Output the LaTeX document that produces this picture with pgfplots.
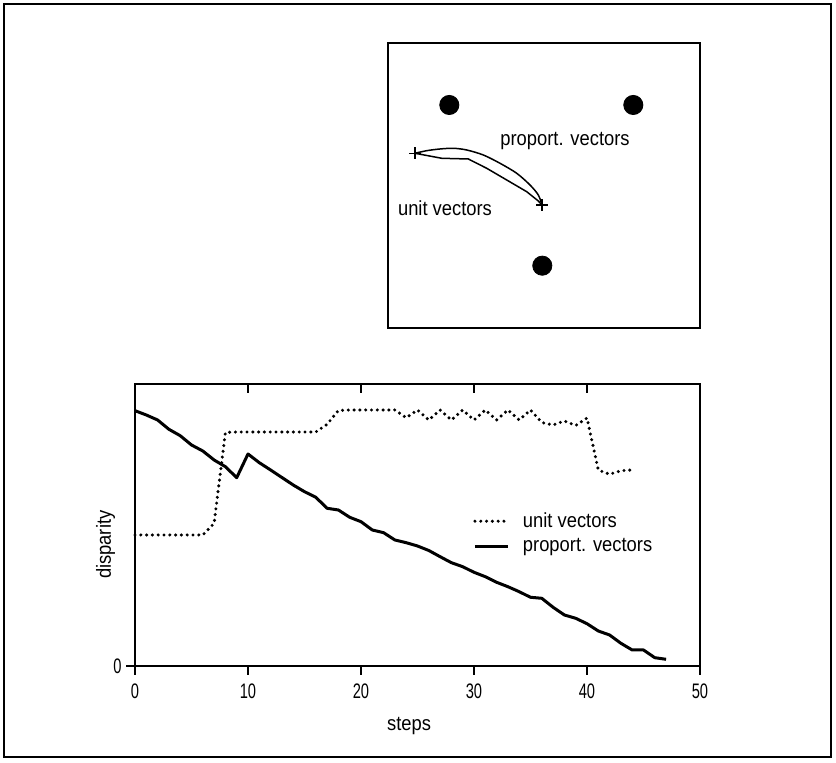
\documentclass[border=0pt]{standalone}
\usepackage{fontspec}
\setmainfont{Liberation Sans}[FakeStretch=0.9]
\newfontfamily\tickfamily{Liberation Sans}[FakeStretch=0.7]
\usepackage{pgfplots}
\pgfplotsset{compat=1.18}
\newcommand{\txtfont}{\fontsize{10.2pt}{12pt}\selectfont}
\newcommand{\tickfont}{\tickfamily\fontsize{10.5pt}{12pt}\selectfont}

\begin{document}
\begin{tikzpicture}
\useasboundingbox (0pt,0pt) rectangle (418pt,381.5pt);
\draw[line width=0.8pt] (2pt,3pt) rectangle (415.5pt,379.5pt);

% ---------- upper panel (units: pixels from its lower-left corner) ----------
\begin{axis}[
  at={(194pt,217.5pt)}, anchor=origin, scale only axis,
  width=156pt, height=142.5pt,
  xmin=0, xmax=312, ymin=0, ymax=285,
  ticks=none, axis line style={line width=0.6pt},
  clip=false
]
\addplot[only marks, mark=*, mark size=4.8pt, black] coordinates {(61.3,223) (245.3,223) (154.3,62.3)};
\addplot[smooth, line width=0.75pt, black] coordinates {
 (27,174.7) (38.7,177.3) (52,179) (65.3,179.7) (78.7,178) (95.3,173)
 (112,164.7) (128.7,154.7) (142,143) (150.3,133) (154,123)};
\addplot[line width=0.75pt, black] coordinates {
 (27,174.7) (53.7,169.7) (80.3,169) (98.7,159.7) (118.7,148) (138.7,136.3) (150.3,127) (154,123)};
\addplot[only marks, mark=+, mark size=3pt, black, line width=0.6pt] coordinates {(27,174.7) (154,123)};
\node[font=\txtfont] at (axis cs:177,187) {proport. vectors};
\node[font=\txtfont] at (axis cs:57,120) {unit vectors};
\end{axis}

% ---------- main plot ----------
\begin{axis}[
  at={(67.5pt,48.5pt)}, anchor=origin, scale only axis,
  width=282.5pt, height=141pt,
  xmin=0, xmax=50, ymin=0, ymax=282,
  xtick={0,10,20,30,40,50}, ytick={0},
  tick align=outside, xtick pos=bottom, ytick pos=left,
  major tick length=4.5pt,
  tick style={line width=0.6pt, black},
  axis line style={line width=0.6pt},
  /pgf/number format/assume math mode=true,
  xticklabel style={font=\tickfont, anchor=north, inner sep=0pt, yshift=-4.25pt},
  yticklabel style={font=\tickfont, anchor=east, inner sep=0pt, xshift=-2pt},
  xlabel={steps}, ylabel={disparity},
  xlabel style={font=\txtfont, at={(axis description cs:0.485,0)}, anchor=base, yshift=-32.5pt},
  ylabel style={font=\txtfont, at={(axis description cs:-0.0425,0.43)}, anchor=base},
  legend style={draw=none, fill=none, at={(0.598,0.557)}, anchor=north west,
    font=\txtfont, row sep=1pt, inner sep=0pt,
    nodes={inner sep=1.5pt}},
  legend cell align=left,
  legend image code/.code={\draw[#1] (0pt,0pt) -- (16.5pt,0pt); \path[draw=none, fill=none] (0pt,0pt) -- (22.5pt,0pt);},
  clip=false
]
\addplot[black, line width=1.7pt, line cap=round, dash pattern=on 0pt off 2.9pt] coordinates {
 (0,131) (1,131) (2,131) (3,131) (4,131) (5,131) (6,131) (7,142.7) (8,233.5)
 (9,234) (10,234) (11,234) (12,234) (13,234) (14,234) (15,234) (16,234)
 (17,241.7) (18,255.5) (19,256) (20,256) (21,256) (22,256) (23,256)
 (24,248.3) (25,256) (26,246) (27,256) (28,246) (29,256) (30,246) (31,256)
 (32,246) (33,256) (34,246) (35,256) (36,243.5) (37,241) (38,245) (39,240.5)
 (40,248) (41,196) (42,191.7) (43,195.3) (44,196)};
\addlegendentry{unit vectors}
\addplot[black, line width=1.5pt, line join=round] coordinates {
 (0,255.3) (1,251) (2,246) (3,236.7) (4,230.3) (5,221) (6,215) (7,206) (8,199.3)
 (9,188.3) (10,212) (11,203.3) (12,196) (13,188.5) (14,181) (15,174.3) (16,168.7)
 (17,157.7) (18,156) (19,148.7) (20,144.3) (21,136) (22,133.3) (23,126) (24,123.3)
 (25,120) (26,115.5) (27,109.3) (28,103.3) (29,99.3) (30,93.7) (31,89.3) (32,83.7)
 (33,79.3) (34,74.3) (35,68.7) (36,67.7) (37,58.7) (38,51) (39,47.7) (40,42.3)
 (41,35) (42,31) (43,22.7) (44,16) (45,16) (46,8.3) (47,6.7)};
\addlegendentry{proport. vectors}
\pgfplotsinvokeforeach{10,20,30,40}{
  \draw[line width=0.6pt] (axis cs:#1,282) -- ++(0,-4.5pt);
}
\end{axis}
\end{tikzpicture}
\end{document}
